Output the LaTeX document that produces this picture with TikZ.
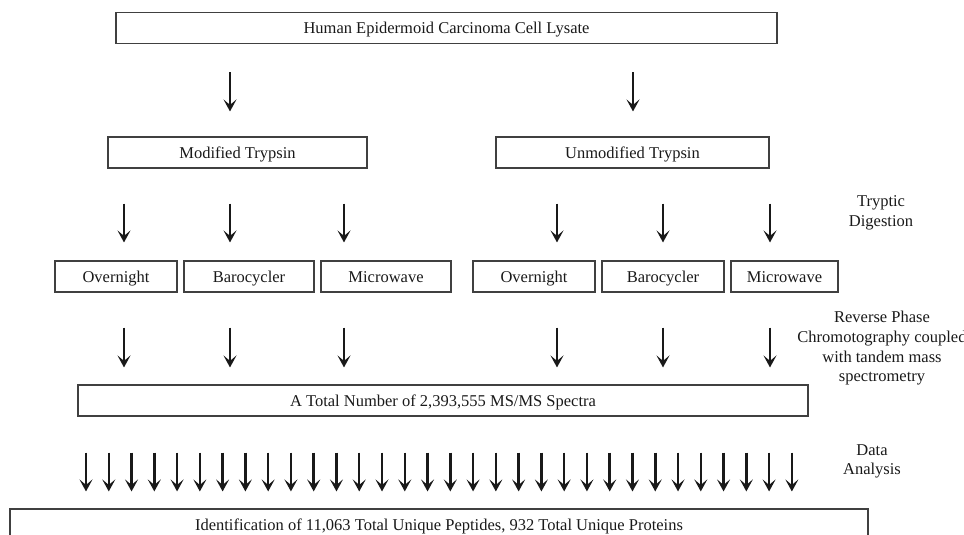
\documentclass[tikz,border=0pt]{standalone}
\usepackage{fontspec}
\setmainfont{Liberation Serif}
\usetikzlibrary{arrows.meta}

\begin{document}
\begin{tikzpicture}[>={Stealth[length=12pt,width=13pt,inset=5.5pt]},x=1pt,y=-1pt,
    font=\fontsize{16.5}{19.7}\selectfont,
    box/.style={draw=black!75,line width=1.1pt,minimum height=31pt,inner sep=0pt,
        text height=11pt,text depth=0pt,text=black!90},
    arr/.style={->,line width=2.5pt,black!90},
    note/.style={align=center,text=black!90}]
    \clip (0,0) rectangle (964,535);
    % Lysate
    \node[box,minimum width=661pt] (lysate) at (446.5,28) {Human Epidermoid Carcinoma Cell Lysate};
    % Trypsin
    \node[box,minimum width=259pt] (mod) at (237.5,152.5) {Modified Trypsin};
    \node[box,minimum width=273pt] (unmod) at (632.5,152.5) {Unmodified Trypsin};
    \coordinate (t1) at (230,0);
    \coordinate (t2) at (633,0);
    \draw[arr,shorten <=28pt,shorten >=25pt] (lysate.south -| t1) -- (mod.north -| t1);
    \draw[arr,shorten <=28pt,shorten >=25pt] (lysate.south -| t2) -- (unmod.north -| t2);
    % Digestion methods
    \node[box,minimum width=122pt] (on1) at (116,276.5) {Overnight};
    \node[box,minimum width=130pt] (bc1) at (249,276.5) {Barocycler};
    \node[box,minimum width=130pt] (mw1) at (386,276.5) {Microwave};
    \node[box,minimum width=122pt] (on2) at (534,276.5) {Overnight};
    \node[box,minimum width=122pt] (bc2) at (663,276.5) {Barocycler};
    \node[box,minimum width=107pt] (mw2) at (784.5,276.5) {Microwave};
    \node[note] (tryptic) at (881,212.5) {Tryptic\\Digestion};
    \coordinate (c1) at (124,0);
    \coordinate (c2) at (230,0);
    \coordinate (c3) at (344,0);
    \coordinate (c4) at (557,0);
    \coordinate (c5) at (663,0);
    \coordinate (c6) at (770,0);
    \foreach \c/\b in {c1/on1,c2/bc1,c3/mw1}
        \draw[arr,shorten <=35pt,shorten >=18pt] (mod.south -| \c) -- (\b.north -| \c);
    \foreach \c/\b in {c4/on2,c5/bc2,c6/mw2}
        \draw[arr,shorten <=35pt,shorten >=18pt] (unmod.south -| \c) -- (\b.north -| \c);
    % Spectra
    \node[box,minimum width=730pt] (total) at (443,400.5) {A Total Number of 2,393,555 MS/MS Spectra};
    \node[note] (lcms) at (882,348.5) {Reverse Phase\\Chromotography coupled\\with tandem mass\\spectrometry};
    \foreach \c/\b in {c1/on1,c2/bc1,c3/mw1,c4/on2,c5/bc2,c6/mw2}
        \draw[arr,shorten <=35pt,shorten >=17pt] (\b.south -| \c) -- (total.north -| \c);
    % Identification
    \node[box,minimum width=858pt] (final) at (439,524.5) {Identification of 11,063 Total Unique Peptides, 932 Total Unique Proteins};
    \node[note] (analysis) at (872,461.5) {Data\\Analysis};
    \foreach \i in {0,...,31} {
        \coordinate (d) at ({86+22.77*\i},0);
        \draw[arr,shorten <=36pt,shorten >=17pt] (total.south -| d) -- (final.north -| d);
    }
\end{tikzpicture}
\end{document}
